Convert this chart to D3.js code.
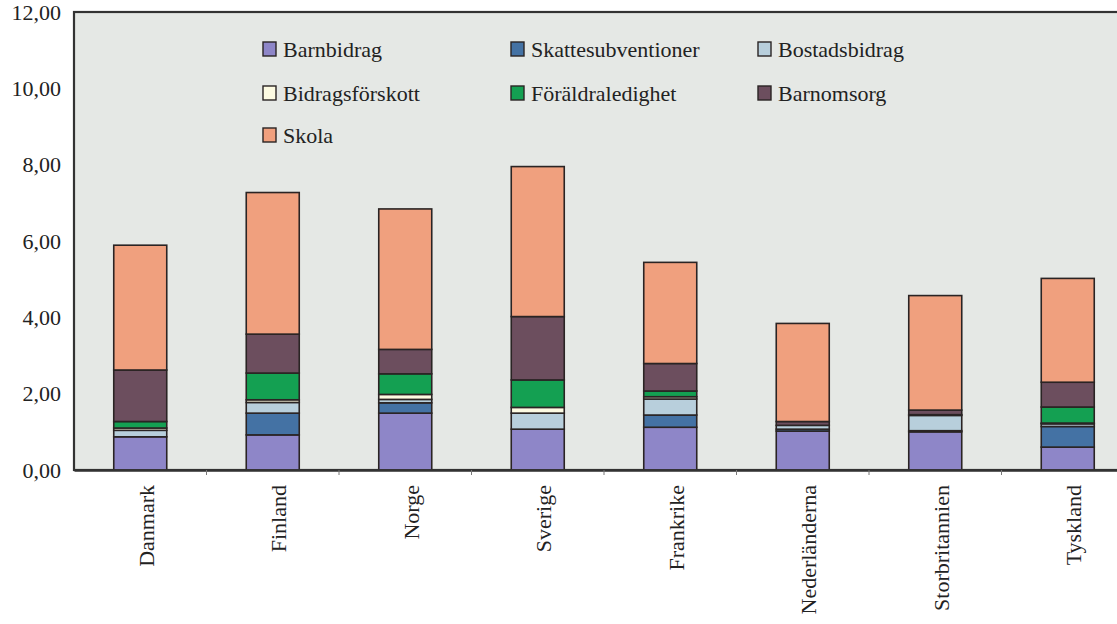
<!DOCTYPE html>
<html><head><meta charset="utf-8">
<script src="https://cdn.jsdelivr.net/npm/d3@7"></script>
<style>html,body{margin:0;padding:0;background:#fff;overflow:hidden}</style>
</head><body>
<svg id="c" width="1117" height="624" font-family="Liberation Serif, serif"></svg>
<script>
const countries = ["Danmark","Finland","Norge","Sverige","Frankrike","Nederländerna","Storbritannien","Tyskland"];
const seriesNames = ["Barnbidrag","Skattesubventioner","Bostadsbidrag","Bidragsförskott","Föräldraledighet","Barnomsorg","Skola"];
const barnbidrag        = [0.87, 0.92, 1.49, 1.07, 1.12, 1.02, 1.00, 0.60];
const skattesubvention  = [0.00, 0.57, 0.27, 0.00, 0.32, 0.05, 0.03, 0.54];
const bostadsbidrag     = [0.17, 0.28, 0.09, 0.42, 0.42, 0.10, 0.40, 0.07];
const bidragsforskott   = [0.06, 0.07, 0.13, 0.15, 0.06, 0.00, 0.02, 0.02];
const foraldraledighet  = [0.17, 0.70, 0.54, 0.72, 0.15, 0.00, 0.00, 0.42];
const barnomsorg        = [1.35, 1.02, 0.64, 1.66, 0.72, 0.10, 0.12, 0.65];
const skola             = [3.27, 3.71, 3.68, 3.93, 2.65, 2.57, 3.00, 2.72];
const yTicks = [0, 2, 4, 6, 8, 10, 12];
const colors = ["#8e86c8","#4472a4","#b8cfdc","#fdfbe2","#14a052","#6c4e5e","#f0a07e"];

const seriesValues = [barnbidrag, skattesubvention, bostadsbidrag, bidragsforskott, foraldraledighet, barnomsorg, skola];
const rows = countries.map((c, i) => {
  const r = {country: c};
  seriesNames.forEach((s, j) => r[s] = seriesValues[j][i]);
  return r;
});

const svg = d3.select("#c");
const m = {left: 74, top: 12, right: 1134, bottom: 470};
const font = "Liberation Serif, serif";

const x = d3.scaleBand().domain(countries).range([m.left, m.right]).paddingInner(0.6).paddingOuter(0.3);
const y = d3.scaleLinear().domain([0, 12]).range([m.bottom, m.top]);

svg.append("rect").attr("x", m.left).attr("y", m.top)
  .attr("width", m.right - m.left).attr("height", m.bottom - m.top)
  .attr("fill", "#e5e8e5").attr("stroke", "#333").attr("stroke-width", 2.2);

const stack = d3.stack().keys(seriesNames)(rows);
const color = d3.scaleOrdinal().domain(seriesNames).range(colors);

svg.append("g").selectAll("g").data(stack).join("g")
  .attr("fill", d => color(d.key))
  .selectAll("rect").data(d => d).join("rect")
  .attr("x", d => x(d.data.country))
  .attr("width", x.bandwidth())
  .attr("y", d => y(d[1]))
  .attr("height", d => Math.max(0, y(d[0]) - y(d[1])))
  .attr("stroke", "#2a2424").attr("stroke-width", 1.6);

const yAxis = d3.axisLeft(y).tickValues(yTicks).tickSize(0).tickPadding(13)
  .tickFormat(d => d3.format(".2f")(d).replace(".", ","));
const ya = svg.append("g").attr("transform", `translate(${m.left},0)`).call(yAxis)
  .attr("font-family", font).attr("font-size", 22);
ya.select(".domain").remove();
ya.selectAll("text").attr("fill", "#222");

const xAxis = d3.axisBottom(x).tickSize(0).tickPadding(0);
const xa = svg.append("g").attr("transform", `translate(0,${m.bottom})`).call(xAxis)
  .attr("font-family", font).attr("font-size", 22);
xa.select(".domain").attr("stroke", "#333").attr("stroke-width", 2.5);
xa.selectAll(".tick text")
  .attr("fill", "#222")
  .attr("text-anchor", "end")
  .attr("transform", "translate(6,15) rotate(-90)")
  .attr("x", 0).attr("y", 0).attr("dy", "0.35em");
const bounds = countries.slice(1).map(c => x(c) - x.step() * x.paddingInner() / 2);
svg.append("g").selectAll("line").data(bounds).join("line")
  .attr("x1", d => d).attr("x2", d => d)
  .attr("y1", m.bottom).attr("y2", m.bottom + 5)
  .attr("stroke", "#777").attr("stroke-width", 1);

const legendCols = [263, 511, 758];
const legendRows = [49, 93, 135];
const legend = svg.append("g").attr("font-family", font).attr("font-size", 22);
const lg = legend.selectAll("g").data(seriesNames).join("g")
  .attr("transform", (d, i) => `translate(${legendCols[i % 3]},${legendRows[Math.floor(i / 3)]})`);
lg.append("rect").attr("x", 0).attr("y", -7).attr("width", 13).attr("height", 14)
  .attr("fill", d => color(d)).attr("stroke", "#2a2424").attr("stroke-width", 1.4);
lg.append("text").attr("x", 20).attr("y", 0).attr("dy", "0.35em")
  .attr("fill", "#222")
  .text(d => d);
</script>
</body></html>
